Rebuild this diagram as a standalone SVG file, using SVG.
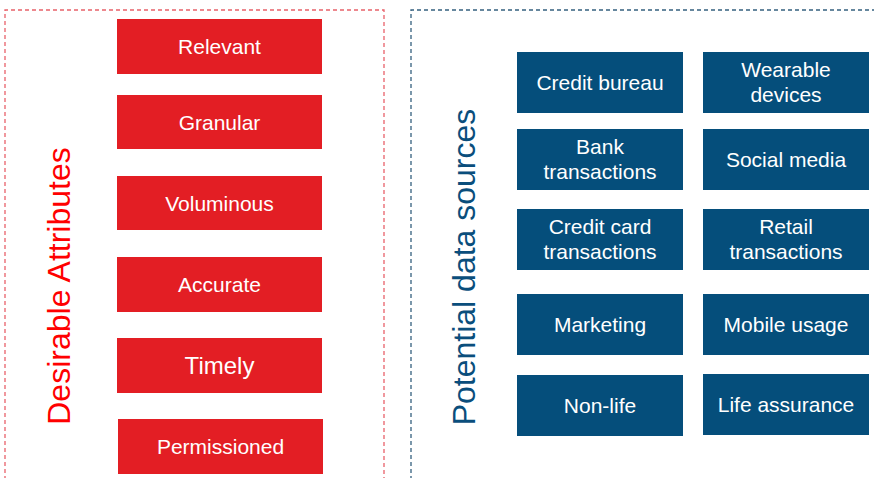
<svg xmlns="http://www.w3.org/2000/svg" width="874" height="478" viewBox="0 0 874 478">
  <style>
    .frame { fill: none; stroke-width: 1.3; stroke-dasharray: 4 3; }
    .frame-attr { stroke: #E8616A; }
    .frame-src { stroke: #35607F; }
    .attr rect { fill: #E31E24; }
    .src rect { fill: #054E7B; }
    .lbl { font-family: "Liberation Sans", Arial, sans-serif; font-size: 21px; fill: #FFFFFF; text-anchor: middle; }
    .title { font-family: "Liberation Sans", Arial, sans-serif; font-size: 32px; text-anchor: middle; }
  </style>

  <rect width="874" height="478" fill="#FFFFFF"/>

  <!-- panel frames (open at the lower / right edges) -->
  <path class="frame frame-attr" d="M5,480 V10 H384 V480"/>
  <path class="frame frame-src" d="M411,480 V10 H880"/>

  <!-- panel titles -->
  <text class="title" fill="#FF0000" transform="translate(70,286) rotate(-90)">Desirable Attributes</text>
  <text class="title" fill="#0A4E7C" transform="translate(475,267) rotate(-90)">Potential data sources</text>

  <!-- attributes -->
  <g id="relevant" class="attr"><rect x="117" y="19" width="205" height="55"/><text class="lbl" x="219.5" y="54">Relevant</text></g>
  <g id="granular" class="attr"><rect x="117" y="95" width="205" height="54"/><text class="lbl" x="219.5" y="129.5">Granular</text></g>
  <g id="voluminous" class="attr"><rect x="117" y="176" width="205" height="54"/><text class="lbl" x="219.5" y="210.5">Voluminous</text></g>
  <g id="accurate" class="attr"><rect x="117" y="257" width="205" height="55"/><text class="lbl" x="219.5" y="292">Accurate</text></g>
  <g id="timely" class="attr"><rect x="117" y="338" width="205" height="55"/><text class="lbl" x="219.5" y="374" style="font-size:24px">Timely</text></g>
  <g id="permissioned" class="attr"><rect x="118" y="419" width="205" height="55"/><text class="lbl" x="220.5" y="454">Permissioned</text></g>

  <!-- data sources -->
  <g id="credit-bureau" class="src"><rect x="517" y="52" width="166" height="61"/><text class="lbl" x="600" y="90">Credit bureau</text></g>
  <g id="wearable-devices" class="src"><rect x="703" y="52" width="166" height="61"/><text class="lbl" x="786" y="77">Wearable</text><text class="lbl" x="786" y="102">devices</text></g>
  <g id="bank-transactions" class="src"><rect x="517" y="129" width="166" height="61"/><text class="lbl" x="600" y="154">Bank</text><text class="lbl" x="600" y="179">transactions</text></g>
  <g id="social-media" class="src"><rect x="703" y="129" width="166" height="61"/><text class="lbl" x="786" y="167">Social media</text></g>
  <g id="credit-card-transactions" class="src"><rect x="517" y="209" width="166" height="61"/><text class="lbl" x="600" y="234">Credit card</text><text class="lbl" x="600" y="259">transactions</text></g>
  <g id="retail-transactions" class="src"><rect x="703" y="209" width="166" height="61"/><text class="lbl" x="786" y="234">Retail</text><text class="lbl" x="786" y="259">transactions</text></g>
  <g id="marketing" class="src"><rect x="517" y="294" width="166" height="61"/><text class="lbl" x="600" y="332">Marketing</text></g>
  <g id="mobile-usage" class="src"><rect x="703" y="294" width="166" height="61"/><text class="lbl" x="786" y="332">Mobile usage</text></g>
  <g id="non-life" class="src"><rect x="517" y="375" width="166" height="61"/><text class="lbl" x="600" y="413">Non-life</text></g>
  <g id="life-assurance" class="src"><rect x="703" y="374" width="166" height="61"/><text class="lbl" x="786" y="412">Life assurance</text></g>

  <!-- no connectors in this figure -->
  <g id="connectors"/>
</svg>
